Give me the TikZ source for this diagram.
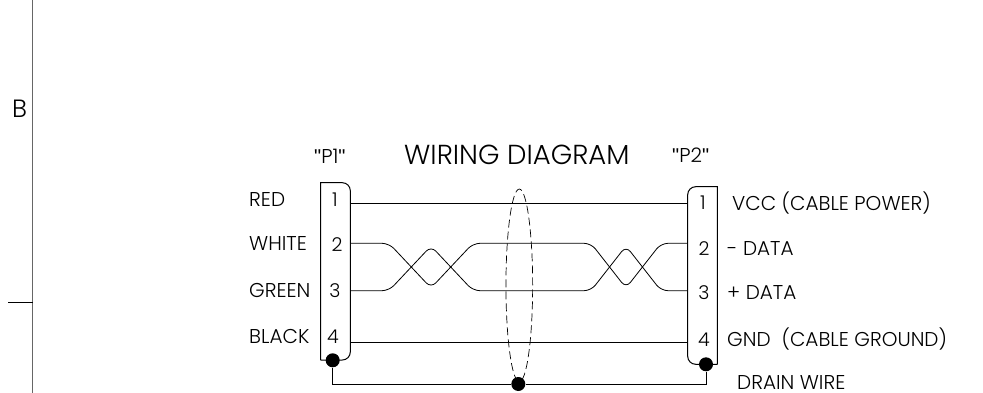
\documentclass[tikz,border=0pt]{standalone}
\usepackage{fontspec}
\setmainfont{Poppins Light}
\newfontfamily\quotefont{Liberation Sans}
\usetikzlibrary{shapes.geometric}
\tikzstyle{pin} = [font=\fontsize{19}{19}\selectfont,inner sep=0pt]
\tikzstyle{lbl} = [font=\fontsize{20}{20}\selectfont,inner sep=0pt,anchor=west]
\tikzstyle{wire} = [draw,line width=1pt]
\tikzstyle{dot} = [circle,fill=black,minimum size=14pt,inner sep=0pt]
\tikzstyle{shell} = [draw,line width=1pt]

\begin{document}
\begin{tikzpicture}[x=1pt,y=-1pt]
	\useasboundingbox (0,0) rectangle (983,393);

	% First we draw the frame edge
	\coordinate (frametop) at (32.5,0);
	\coordinate (framebot) at (32.5,393);
	\coordinate (tickl) at (8,302);
	\coordinate (tickr) at (32.5,302);
	\draw[black!60,line width=1.4pt] (frametop) -- (framebot);
	\draw[line width=0.8pt] (tickl) -- (tickr);
	\node[lbl,anchor=center,font=\fontsize{25}{25}\selectfont] (zone) at (19.5,109) {B};

	% The two connector shells
	\draw[shell] (320.5,360) -- (320.5,182.7) [rounded corners=8pt] -- (350.3,182.7) -- (350.3,360) -- (320.5,360);
	\draw[shell] (717.3,364.3) -- (717.3,186.7) [rounded corners=8pt] -- (687.7,186.7) -- (687.7,364.3) -- (717.3,364.3);

	% Pin numbers and wire ends
	\foreach \pos/\name/\txt in {{(335,200)/na/1}, {(337,245)/nb/2}, {(335,291)/nc/3}, {(333,337)/nd/4},
		{(703,203)/ne/1}, {(704,249)/nf/2}, {(704,293)/ng/3}, {(704,340)/nh/4}}
	\node[pin] (\name) at \pos {\txt};
	\foreach \y/\name in {203.3/1, 243.3/2, 290.7/3, 342.7/4} {
		\coordinate (p\name) at (350.3,\y);
		\coordinate (q\name) at (687.7,\y);
	}

	% Straight wires
	\foreach \name in {1,4}
	\path[wire] (p\name) -- (q\name);

	% Twisted pair
	\foreach \name/\ya/\yb in {2/243.3/288, 3/290.7/246}
	\path[wire,line width=0.8pt,rounded corners=7pt] (p\name) -- (389,\ya) -- (431,\yb) -- (473,\ya)
		-- (591,\ya) -- (626,\yb) -- (661,\ya) -- (q\name);

	% Shield and drain wire
	\node[ellipse,draw,dashed,dash pattern=on 8pt off 4pt,line width=0.7pt,minimum width=26.7pt,minimum height=192.7pt,inner sep=0pt] (shield) at (519.3,285.4) {};
	\node[dot] (dotl) at (332.7,360.3) {};
	\node[dot] (dots) at (518.3,384) {};
	\node[dot] (dotr) at (706,364.3) {};
	\draw[line width=1pt] (dotl) |- (dots);
	\draw[line width=1pt] (dots) -| (dotr);

	% Wire names and signals
	\foreach \pos/\name/\txt in {{(249,200)/red/RED}, {(249,244)/white/WHITE}, {(249,290)/green/GREEN}, {(249,336)/black/BLACK},
		{(732,203)/vcc/VCC (CABLE POWER)}, {(727,249)/dneg/- DATA}, {(727,293)/dpos/+ DATA},
		{(727,339)/gnd/GND\ \ (CABLE GROUND)}, {(737,383)/drain/DRAIN WIRE}, {(314,156)/pa/{\quotefont"}P1{\quotefont"}}, {(672,155)/pb/{\quotefont"}P2{\quotefont"}}}
	\node[lbl] (\name) at \pos {\txt};
	\node[lbl,font=\fontsize{27.5}{27.5}\selectfont] (title) at (404,155) {WIRING DIAGRAM};
\end{tikzpicture}
\end{document}
